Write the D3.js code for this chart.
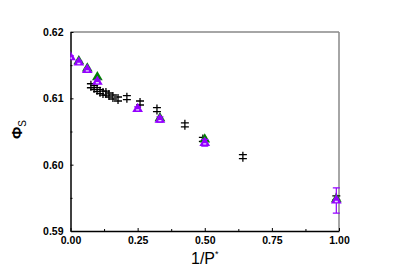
<!DOCTYPE html>
<html>
<head>
<meta charset="utf-8">
<script src="https://cdn.jsdelivr.net/npm/d3@7"></script>
<style>
  body { margin: 0; background: #fff; }
  text { font-family: "Liberation Sans", Arial, sans-serif; }
</style>
</head>
<body>
<div id="chart"></div>
<script>
// data
const xTicks = [0, 0.25, 0.5, 0.75, 1.0];
const yTicks = [0.59, 0.60, 0.61, 0.62];

const blackX = [0.076, 0.088, 0.099, 0.11, 0.121, 0.132, 0.143, 0.158, 0.177, 0.21, 0.259, 0.322, 0.426, 0.493, 0.642, 0.99];
const blackY = [0.6119, 0.6116, 0.6113, 0.6110, 0.6108, 0.6108, 0.6105, 0.6102, 0.6099, 0.6101, 0.6093, 0.6083, 0.6060, 0.6038, 0.6012, 0.5950];

const greenX = [0.031, 0.0625, 0.1, 0.333, 0.5, 0.99];
const greenY = [0.6156, 0.6145, 0.6132, 0.6070, 0.6038, 0.5948];

const purpleX = [0, 0.031, 0.0625, 0.1, 0.25, 0.333, 0.5, 0.99];
const purpleY = [0.6162, 0.6154, 0.6143, 0.6125, 0.6084, 0.6068, 0.6033, 0.5946];
const purpleErr = [0.0002, 0.0002, 0.0002, 0.0003, 0.0003, 0.0004, 0.0005, 0.0019];

const width = 395, height = 277;
const margin = { left: 70.5, right: 56, top: 32, bottom: 46 };

const svg = d3.select("#chart").append("svg")
    .attr("width", width)
    .attr("height", height);

const x = d3.scaleLinear().domain([0, 1]).range([margin.left, width - margin.right]);
const y = d3.scaleLinear().domain([0.59, 0.62]).range([height - margin.bottom, margin.top]);

// clip only the left side (first point sits on the axis)
svg.append("defs").append("clipPath").attr("id", "clip")
    .append("rect")
    .attr("x", x(0)).attr("y", 0)
    .attr("width", width - x(0)).attr("height", height);

// frame: top and right in grey
svg.append("line").attr("x1", x(0)).attr("x2", x(1)).attr("y1", y(0.62)).attr("y2", y(0.62))
    .attr("stroke", "#888").attr("stroke-width", 1.5);
svg.append("line").attr("x1", x(1)).attr("x2", x(1)).attr("y1", y(0.62)).attr("y2", y(0.59))
    .attr("stroke", "#888").attr("stroke-width", 1.5);

// bottom axis
const xAxis = svg.append("g")
    .attr("transform", `translate(0,${y(0.59)})`)
    .call(d3.axisBottom(x).tickValues(xTicks).tickFormat(d3.format(".2f")).tickSizeInner(-3).tickSizeOuter(0).tickPadding(6));
xAxis.select(".domain").attr("stroke-width", 1.5);
xAxis.selectAll("text").attr("font-size", 10.5).attr("font-weight", "bold").attr("fill", "#000");
const xMinor = svg.append("g")
    .attr("transform", `translate(0,${y(0.59)})`)
    .call(d3.axisBottom(x).tickValues([0.125, 0.375, 0.625, 0.875]).tickFormat("").tickSizeInner(-2).tickSizeOuter(0));
xMinor.select(".domain").remove();

// left axis
const yAxis = svg.append("g")
    .attr("transform", `translate(${x(0)},0)`)
    .call(d3.axisLeft(y).tickValues(yTicks).tickFormat(d3.format(".2f")).tickSizeInner(-3).tickSizeOuter(0).tickPadding(7));
yAxis.select(".domain").attr("stroke-width", 1.5);
yAxis.selectAll("text").attr("font-size", 10.5).attr("font-weight", "bold").attr("fill", "#000");
const yMinor = svg.append("g")
    .attr("transform", `translate(${x(0)},0)`)
    .call(d3.axisLeft(y).tickValues([0.595, 0.605, 0.615]).tickFormat("").tickSizeInner(-2).tickSizeOuter(0));
yMinor.select(".domain").remove();

// axis titles
const xt = svg.append("text")
    .attr("x", 191).attr("y", 264)
    .attr("font-size", 16);
xt.append("tspan").text("1/P");
xt.append("tspan").text("*").attr("font-size", 9).attr("dy", -7);

const yt = svg.append("text")
    .attr("transform", "translate(22,139) rotate(-90)")
    .attr("font-size", 15).attr("font-weight", "bold");
yt.append("tspan").text("Φ");
yt.append("tspan").text("S").attr("font-size", 10).attr("font-weight", "normal").attr("dy", 4);

const plot = svg.append("g").attr("clip-path", "url(#clip)");

// black crosses (error bar with caps + centre bar)
const black = blackX.map((v, i) => ({ x: v, y: blackY[i] }));
const bg = plot.append("g").selectAll("g").data(black).join("g")
    .attr("transform", d => `translate(${x(d.x)},${y(d.y)})`)
    .attr("stroke", "#000").attr("stroke-width", 1.3);
bg.append("line").attr("x1", 0).attr("x2", 0).attr("y1", -5).attr("y2", 5);
bg.append("line").attr("x1", -4).attr("x2", 4).attr("y1", -2).attr("y2", -2);
bg.append("line").attr("x1", -4).attr("x2", 4).attr("y1", 2).attr("y2", 2);

// green triangles
const tri = d3.symbol().type(d3.symbolTriangle);
const green = greenX.map((v, i) => ({ x: v, y: greenY[i] }));
plot.append("g").selectAll("path").data(green).join("path")
    .attr("transform", d => `translate(${x(d.x)},${y(d.y)})`)
    .attr("d", tri.size(50))
    .attr("fill", "#008000");

// purple triangles with error bars
const purple = purpleX.map((v, i) => ({ x: v, y: purpleY[i], e: purpleErr[i] }));
const pg = plot.append("g").selectAll("g").data(purple).join("g")
    .attr("stroke", "#9400ff").attr("stroke-width", 1.2);
pg.append("line")
    .attr("x1", d => x(d.x)).attr("x2", d => x(d.x))
    .attr("y1", d => y(d.y - d.e)).attr("y2", d => y(d.y + d.e));
pg.append("line")
    .attr("x1", d => x(d.x) - 3.5).attr("x2", d => x(d.x) + 3.5)
    .attr("y1", d => y(d.y - d.e)).attr("y2", d => y(d.y - d.e));
pg.append("line")
    .attr("x1", d => x(d.x) - 3.5).attr("x2", d => x(d.x) + 3.5)
    .attr("y1", d => y(d.y + d.e)).attr("y2", d => y(d.y + d.e));
pg.append("path")
    .attr("transform", d => `translate(${x(d.x)},${y(d.y)})`)
    .attr("d", tri.size(50))
    .attr("stroke", "none")
    .attr("fill", "#9400ff");
pg.append("line")
    .attr("x1", d => x(d.x) - 1.5).attr("x2", d => x(d.x) + 1.5)
    .attr("y1", d => y(d.y) + 1).attr("y2", d => y(d.y) + 1)
    .attr("stroke", "#e8d8ff").attr("stroke-width", 1.3);
</script>
</body>
</html>
